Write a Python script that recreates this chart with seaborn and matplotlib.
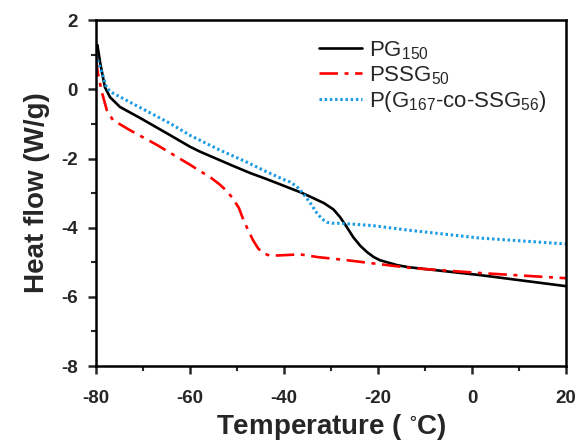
import numpy as np
import pandas as pd
import matplotlib
matplotlib.use('Agg')
import matplotlib.pyplot as plt
from matplotlib.ticker import MultipleLocator
import seaborn as sns

# PG150 (black, solid)
pg_temp = [-80.0, -79.7, -79.1, -78.1, -77.0, -74.9, -70.6, -64.3, -60.0, -57.9, -50.9,
           -47.2, -43.6, -38.7, -36.6, -34.0, -31.5, -29.5, -28.1, -26.7, -25.3, -23.8,
           -22.3, -20.9, -19.6, -16.0, -13.6, 1.7, 20.0]
pg_flow = [1.1, 1.28, 0.76, 0.06, -0.23, -0.51, -0.83, -1.32, -1.66, -1.80, -2.21,
           -2.42, -2.60, -2.86, -2.97, -3.13, -3.29, -3.47, -3.69, -3.97, -4.27, -4.52,
           -4.71, -4.85, -4.94, -5.08, -5.14, -5.37, -5.69]

# PSSG50 (red, dash-dot)
pssg_temp = [-80.0, -79.6, -78.7, -77.7, -76.4, -72.8, -67.0, -60.0, -57.9, -55.5,
             -53.6, -52.2, -50.9, -49.6, -48.7, -47.6, -46.6, -45.5, -44.5, -43.0,
             -40.9, -36.6, -32.8, -26.6, -12.6, 1.7, 20.0]
pssg_flow = [0.9, 0.47, -0.11, -0.6, -0.89, -1.18, -1.61, -2.18, -2.36, -2.56,
             -2.76, -2.94, -3.15, -3.43, -3.75, -4.08, -4.36, -4.60, -4.73, -4.81,
             -4.80, -4.77, -4.85, -4.94, -5.17, -5.31, -5.46]

# P(G167-co-SSG56) (blue, dotted)
co_temp = [-80.0, -78.7, -77.7, -76.4, -72.8, -64.3, -60.0, -53.6, -48.0, -43.6, -40.2,
           -38.7, -37.3, -36.0, -34.5, -33.0, -31.9, -30.9, -29.8, -28.7, -25.0, -21.1,
           -13.6, 1.7, 20.0]
co_flow = [0.99, 0.47, 0.03, -0.11, -0.37, -0.98, -1.33, -1.76, -2.10, -2.39, -2.60,
           -2.68, -2.81, -3.0, -3.27, -3.58, -3.75, -3.84, -3.87, -3.87, -3.90, -3.94,
           -4.07, -4.30, -4.47]

labels = ['PG$_{150}$', 'PSSG$_{50}$', 'P(G$_{167}$-co-SSG$_{56}$)']

sns.set_style('ticks')
plt.rcParams['font.family'] = ['Liberation Sans', 'DejaVu Sans']
plt.rcParams['mathtext.fontset'] = 'custom'
plt.rcParams['mathtext.rm'] = 'Liberation Sans'
plt.rcParams['mathtext.it'] = 'Liberation Sans'
plt.rcParams['mathtext.default'] = 'regular'
plt.rcParams['axes.unicode_minus'] = False

fig = plt.figure(figsize=(5.8, 4.47), dpi=100)
ax = fig.add_axes([0.1655, 0.181, 0.8105, 0.774])

df_pg = pd.DataFrame({'T': pg_temp, 'H': pg_flow})
df_pssg = pd.DataFrame({'T': pssg_temp, 'H': pssg_flow})
df_co = pd.DataFrame({'T': co_temp, 'H': co_flow})

sns.lineplot(data=df_pg, x='T', y='H', ax=ax, color='black', lw=1.9, label=labels[0])
sns.lineplot(data=df_pssg, x='T', y='H', ax=ax, color='#ff0000', lw=1.9,
             linestyle=(0, (7, 2.5, 1.5, 2.5)), label=labels[1])
sns.lineplot(data=df_co, x='T', y='H', ax=ax, color='#1a9be3', lw=2.2,
             linestyle=(0, (0.8, 0.9)), label=labels[2])

ax.set_xlim(-80, 20)
ax.set_ylim(-8, 2)
ax.xaxis.set_major_locator(MultipleLocator(20))
ax.xaxis.set_minor_locator(MultipleLocator(10))
ax.yaxis.set_major_locator(MultipleLocator(2))
ax.yaxis.set_minor_locator(MultipleLocator(1))
ax.tick_params(which='major', direction='out', length=6, width=1.8, labelsize=13.5)
ax.tick_params(axis='x', which='major', pad=11)
ax.tick_params(axis='y', which='major', pad=7)
ax.tick_params(which='minor', direction='out', length=3.5, width=1.5)
for lab in ax.get_xticklabels() + ax.get_yticklabels():
    lab.set_fontweight('bold')
for sp in ax.spines.values():
    sp.set_linewidth(1.8)
    sp.set_color('black')

ax.set_xlabel('Temperature ( $^{\\circ}$C)', fontsize=20, fontweight='bold', labelpad=4)
ax.set_ylabel('Heat flow (W/g)', fontsize=20, fontweight='bold', labelpad=8)

ax.legend(loc='upper right', frameon=False, fontsize=16, handlelength=1.9,
          handletextpad=0.35, labelspacing=0.1, borderaxespad=0.3,
          bbox_to_anchor=(0.993, 0.99))

fig.savefig('out.png', dpi=100)
